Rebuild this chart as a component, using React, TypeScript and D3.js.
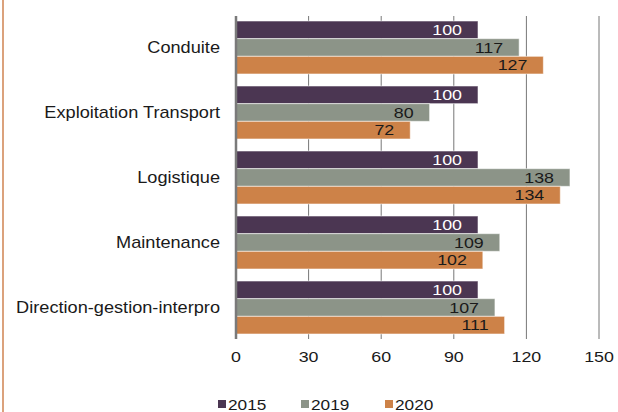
import { useRef, useEffect } from 'react'
import * as d3 from 'd3'

const categories = [
  'Conduite',
  'Exploitation Transport',
  'Logistique',
  'Maintenance',
  'Direction-gestion-interpro'
]
const years = ['2015', '2019', '2020']
const values2015 = [100, 100, 100, 100, 100]
const values2019 = [117, 80, 138, 109, 107]
const values2020 = [127, 72, 134, 102, 111]
const xTicks = [0, 30, 60, 90, 120, 150]

const colors = ['#4b3652', '#8c9488', '#cd8248']
const labelColors = ['#ffffff', '#1a1a1a', '#1a1a1a']

const WIDTH = 618
const HEIGHT = 412
const FONT = '"Liberation Sans", Arial, sans-serif'
const STRETCH = 1.15 // the reference text is a bit wider than plain Arial

export default function App() {
  const svgRef = useRef<SVGSVGElement>(null)

  useEffect(() => {
    if (!svgRef.current) return
    const svg = d3.select(svgRef.current)
    svg.selectAll('*').remove()

    const series = [values2015, values2019, values2020]
    const plotTop = 16
    const plotBottom = 339

    const x = d3.scaleLinear().domain([0, 150]).range([236, 599])
    const y = d3.scaleBand<string>()
      .domain(categories)
      .range([plotTop, plotBottom])
      .paddingInner(0.185)
      .paddingOuter(0.077)
    const ySub = d3.scaleBand<string>()
      .domain(years)
      .range([0, y.bandwidth()])

    // frame line on the left
    svg.append('line')
      .attr('x1', 3).attr('x2', 3)
      .attr('y1', 0).attr('y2', HEIGHT)
      .attr('stroke', '#dba27c')
      .attr('stroke-width', 2)

    // gridlines
    svg.append('g')
      .selectAll('line')
      .data(xTicks.slice(1))
      .join('line')
      .attr('x1', d => x(d)).attr('x2', d => x(d))
      .attr('y1', plotTop).attr('y2', plotBottom)
      .attr('stroke', '#777')
      .attr('stroke-width', 1)

    // bars
    categories.forEach((cat, ci) => {
      const g = svg.append('g').attr('transform', `translate(0,${y(cat)})`)
      years.forEach((yr, si) => {
        const v = series[si][ci]
        const y0 = ySub(yr) as number
        const h = ySub.bandwidth()
        g.append('rect')
          .attr('x', x(0))
          .attr('y', y0)
          .attr('width', x(v) - x(0))
          .attr('height', h)
          .attr('fill', colors[si])
          .attr('stroke', 'rgba(255,255,255,0.55)')
          .attr('stroke-width', 1)
        g.append('text')
          .attr('transform', `translate(${x(v) - 16},${y0 + h / 2}) scale(${STRETCH},1)`)
          .attr('text-anchor', 'end')
          .attr('dominant-baseline', 'central')
          .attr('font-family', FONT)
          .attr('font-size', 15.5)
          .attr('fill', labelColors[si])
          .text(v)
      })
    })

    // value axis line
    svg.append('line')
      .attr('x1', x(0)).attr('x2', x(0))
      .attr('y1', plotTop).attr('y2', plotBottom)
      .attr('stroke', '#7a7a7a')
      .attr('stroke-width', 2.5)

    // category labels
    svg.append('g')
      .selectAll('text')
      .data(categories)
      .join('text')
      .attr('transform', d => `translate(220,${(y(d) as number) + y.bandwidth() / 2}) scale(${STRETCH},1)`)
      .attr('text-anchor', 'end')
      .attr('dominant-baseline', 'central')
      .attr('font-family', FONT)
      .attr('font-size', 15.8)
      .attr('fill', '#1a1a1a')
      .text(d => d)

    // tick labels
    svg.append('g')
      .selectAll('text')
      .data(xTicks)
      .join('text')
      .attr('transform', d => `translate(${x(d)},357) scale(${STRETCH},1)`)
      .attr('text-anchor', 'middle')
      .attr('dominant-baseline', 'central')
      .attr('font-family', FONT)
      .attr('font-size', 15.5)
      .attr('fill', '#1a1a1a')
      .text(d => d)

    // legend
    const legendX = [218, 301, 385]
    const legend = svg.append('g')
    years.forEach((yr, i) => {
      legend.append('rect')
        .attr('x', legendX[i])
        .attr('y', 400)
        .attr('width', 8)
        .attr('height', 8)
        .attr('fill', colors[i])
      legend.append('text')
        .attr('transform', `translate(${legendX[i] + 10},404) scale(${STRETCH},1)`)
        .attr('dominant-baseline', 'central')
        .attr('font-family', FONT)
        .attr('font-size', 15)
        .attr('fill', '#1a1a1a')
        .text(yr)
    })
  }, [])

  return (
    <svg
      ref={svgRef}
      width={WIDTH}
      height={HEIGHT}
      style={{ position: 'absolute', left: 0, top: 0, background: '#fff' }}
    />
  )
}
